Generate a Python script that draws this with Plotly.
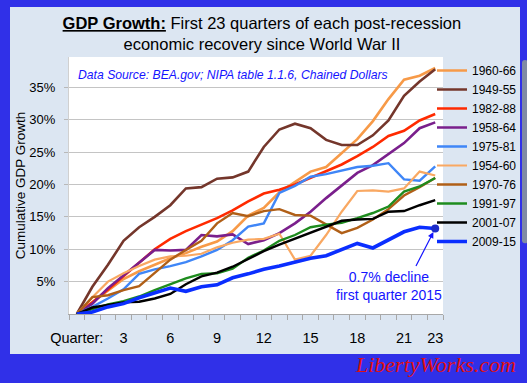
import plotly.graph_objects as go

# ---------------- data ----------------
quarters = list(range(0, 24))
tick_quarters = [0, 3, 6, 9, 12, 15, 18, 21, 23]
tick_labels = ["Quarter:", "3", "6", "9", "12", "15", "18", "21", "23"]
y_ticks = [5, 10, 15, 20, 25, 30, 35]
y_tick_labels = ["5%", "10%", "15%", "20%", "25%", "30%", "35%"]

g_1960_66 = [0, 1.8, 3.6, 5.4, 6.6, 7.6, 8.6, 9.4, 10.4, 11.2, 12.8, 15.2, 16.4, 18.8,
             20.4, 22.0, 22.7, 24.8, 27.0, 29.8, 33.2, 36.2, 36.8, 38.0]
g_1949_55 = [0, 4.2, 7.6, 11.3, 13.4, 15.0, 16.8, 19.4, 19.6, 20.9, 21.1, 22.0, 25.8, 28.5,
             29.4, 28.7, 26.9, 26.1, 26.1, 27.6, 29.9, 33.7, 35.9, 37.8]
g_1982_88 = [0, 1.8, 3.8, 5.8, 7.9, 10.0, 11.6, 12.8, 13.8, 14.8, 16.0, 17.4, 18.6, 19.2,
             20.0, 21.0, 22.0, 23.1, 24.4, 25.8, 27.5, 28.3, 29.9, 30.9]
g_1958_64 = [0, 1.6, 4.0, 6.0, 7.9, 9.9, 9.8, 9.9, 12.2, 12.0, 12.3, 10.8, 11.4, 12.5,
             14.0, 15.8, 17.9, 19.8, 21.8, 23.0, 24.7, 26.4, 28.7, 29.6]
g_1975_81 = [0, 1.1, 2.4, 3.8, 6.2, 6.9, 7.4, 8.0, 8.9, 9.9, 11.4, 13.5, 14.0, 18.7,
             19.8, 21.2, 21.6, 22.2, 22.7, 22.9, 23.3, 20.8, 20.6, 22.8]
g_1954_60 = [0, 2.6, 5.0, 6.3, 7.4, 8.4, 8.9, 9.0, 9.3, 10.3, 11.0, 11.5, 11.6, 12.4,
             8.4, 9.0, 12.2, 15.8, 19.0, 19.1, 18.9, 19.4, 22.0, 21.4]
g_1970_76 = [0, 2.6, 2.9, 3.7, 4.3, 6.3, 8.4, 9.9, 11.3, 14.0, 15.6, 15.1, 15.9, 16.2,
             15.3, 15.2, 13.8, 12.5, 13.3, 14.6, 16.2, 18.3, 19.6, 21.0]
g_1991_97 = [0, 0.8, 1.5, 2.0, 2.7, 3.7, 4.6, 5.5, 6.2, 6.3, 7.0, 8.7, 9.8, 11.3,
             12.2, 13.4, 13.8, 14.1, 14.8, 15.6, 16.6, 18.9, 19.7, 21.0]
g_2001_07 = [0, 1.0, 1.4, 1.8, 1.9, 2.4, 3.1, 4.6, 5.8, 6.4, 7.3, 8.5, 9.7, 10.7,
             11.6, 12.6, 13.4, 14.4, 14.6, 14.7, 15.8, 15.9, 16.8, 17.6]
g_2009_15 = [0, 0.3, 1.1, 1.6, 2.5, 3.3, 4.0, 3.5, 4.2, 4.5, 5.6, 6.2, 6.9, 7.4,
             8.0, 8.6, 9.0, 9.9, 10.9, 10.2, 11.4, 12.7, 13.4, 13.2]

series = [
    ("1960-66", g_1960_66, "#F79A48", 2.6),
    ("1949-55", g_1949_55, "#74362B", 2.6),
    ("1982-88", g_1982_88, "#FF2A00", 2.6),
    ("1958-64", g_1958_64, "#7A1F8C", 2.6),
    ("1975-81", g_1975_81, "#3F86F7", 2.4),
    ("1954-60", g_1954_60, "#F9A862", 2.2),
    ("1970-76", g_1970_76, "#B05F17", 2.4),
    ("1991-97", g_1991_97, "#1E8C1E", 2.4),
    ("2001-07", g_2001_07, "#000000", 2.4),
    ("2009-15", g_2009_15, "#0A2EFF", 3.6),
]

FONT = "Liberation Sans, Arial, Helvetica, sans-serif"
W, H = 527, 383
L, R, T, B = 69, 84, 57, 69
PW, PH = W - L - R, H - T - B


def px_x(p):
    return (p - L) / PW


def px_y(p):
    return (H - B - p) / PH


fig = go.Figure()
for name, vals, color, width in series:
    fig.add_trace(go.Scatter(x=quarters, y=vals, mode="lines", name=name,
                             line=dict(color=color, width=width)))

# end-point dot for the latest recovery
fig.add_trace(go.Scatter(x=[quarters[-1]], y=[g_2009_15[-1]], mode="markers",
                         marker=dict(color="#1C2CC8", size=8), showlegend=False))

fig.update_layout(
    width=W, height=H,
    margin=dict(l=L, r=R, t=T, b=B, autoexpand=False),
    paper_bgcolor="#3030E8",
    plot_bgcolor="white",
    font=dict(family=FONT, color="black"),
    title=dict(
        text="<b><u>GDP Growth:</u></b> First 23 quarters of each post-recession<br>"
             "economic recovery since World War II",
        x=0.497, xref="container", xanchor="center",
        y=1 - 29 / H, yref="container", yanchor="middle",
        font=dict(size=16.5, family=FONT, color="black"),
        automargin=False,
    ),
    showlegend=True,
    legend=dict(
        xref="container", yref="container",
        x=432 / W, y=1 - 56 / H, xanchor="left", yanchor="top",
        bgcolor="rgba(0,0,0,0)", borderwidth=0,
        font=dict(size=12, family=FONT, color="black"),
        traceorder="normal",
    ),
    shapes=[
        dict(type="rect", xref="paper", yref="paper", layer="below",
             x0=px_x(10), x1=px_x(520), y0=px_y(354), y1=px_y(7),
             fillcolor="#DCE6F2", line=dict(width=0)),
        dict(type="rect", xref="x domain", yref="y domain", layer="below",
             x0=0, x1=1, y0=0, y1=1, fillcolor="white", line=dict(width=0)),
    ],
)

fig.update_xaxes(
    range=[-0.5, 23.5], automargin=False,
    tickmode="array", tickvals=tick_quarters, ticktext=tick_labels,
    ticks="", ticklabelstandoff=11,
    tickfont=dict(size=14.5, family=FONT, color="black"),
    showgrid=False, zeroline=False,
    showline=True, linecolor="#A8A8A8", linewidth=1,
    minor=dict(tickmode="linear", tick0=-0.5, dtick=1, ticks="outside",
               ticklen=5, tickcolor="#A8A8A8", showgrid=False),
)

fig.update_yaxes(
    range=[0, 39.7], automargin=False,
    tickmode="array", tickvals=y_ticks, ticktext=y_tick_labels,
    ticks="outside", ticklen=4, tickcolor="#B8B8B8", ticklabelstandoff=6,
    tickfont=dict(size=13, family=FONT, color="black"),
    showgrid=True, gridcolor="#C4C4C4", gridwidth=1,
    zeroline=False,
    showline=True, linecolor="#D0D0D0", linewidth=1,
    title=dict(text="Cumulative GDP Growth", standoff=0,
               font=dict(size=13.5, family=FONT, color="black")),
)

fig.add_annotation(
    text="Data Source: BEA.gov; NIPA table 1.1.6, Chained Dollars",
    xref="paper", yref="paper", x=px_x(76), y=px_y(75),
    xanchor="left", yanchor="middle", showarrow=False,
    font=dict(size=12.2, family=FONT, color="#1414FF", style="italic"),
)

fig.add_annotation(
    text="0.7% decline<br>first quarter 2015",
    xref="paper", yref="paper", x=px_x(389), y=px_y(285.5),
    xanchor="center", yanchor="middle", showarrow=False,
    font=dict(size=14, family=FONT, color="#1414FF"),
)

fig.add_annotation(
    text="", x=quarters[-1], y=g_2009_15[-1], xref="x", yref="y",
    showarrow=True, ax=-20, ay=39, arrowhead=2, arrowsize=1, arrowwidth=1.2,
    arrowcolor="#1414FF", standoff=4,
)

fig.add_annotation(
    text="LibertyWorks.com",
    xref="paper", yref="paper", x=px_x(435.5), y=px_y(364),
    xanchor="center", yanchor="middle", showarrow=False,
    font=dict(size=22, family="Liberation Serif, DejaVu Serif, serif",
              color="#E01010", style="italic"),
)

# remove the browser's default page margin so the figure fills the window
fig.write_html("out.html",
               config={"displayModeBar": False},
               post_script="document.body.style.margin='0px';"
                           "document.body.style.background='#3030E8';")
